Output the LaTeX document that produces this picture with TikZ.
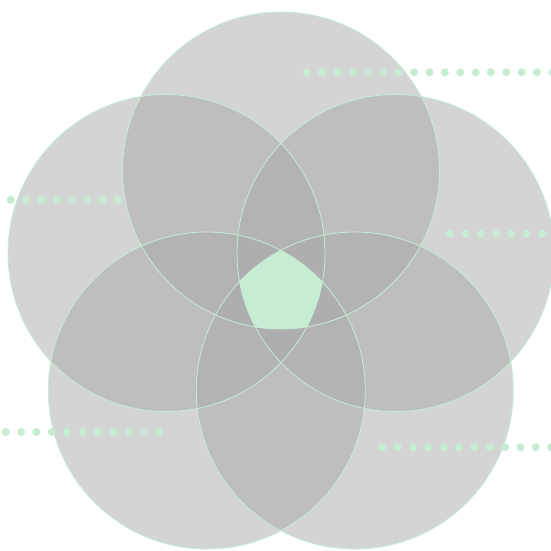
\documentclass[tikz,border=0pt]{standalone}
\begin{document}
\begin{tikzpicture}[x=1pt,y=-1pt]
\definecolor{mint}{RGB}{198,236,212}
\definecolor{petal}{RGB}{169,169,169}
\tikzset{
  petalfill/.style={fill=petal,fill opacity=0.5},
  petaledge/.style={draw=mint,line width=0.8pt},
  dotmark/.style={fill=mint,draw=none},
}
\useasboundingbox (0,0) rectangle (551,550);
\def\rr{158.5}
\coordinate (ca) at (281,170.5);
\coordinate (cb) at (166.5,253);
\coordinate (cc) at (395.5,253);
\coordinate (cd) at (206.8,390.5);
\coordinate (ce) at (354.8,390.5);
% fills
\foreach \n in {ca,cb,cc,cd,ce}{
  \fill[petalfill] (\n) circle (\rr);
}
% edges
\foreach \n in {ca,cb,cc,cd,ce}{
  \draw[petaledge] (\n) circle (\rr);
}
% centre intersection
\begin{scope}
  \clip (ca) circle (\rr);
  \clip (cb) circle (\rr);
  \clip (cc) circle (\rr);
  \clip (cd) circle (\rr);
  \fill[mint] (ce) circle (\rr);
\end{scope}
% dotted rows
\foreach \k in {0,...,16}{ \fill[dotmark] (306.7+15.35*\k,72.3) circle (4); }
\foreach \k in {0,...,7}{ \fill[dotmark] (10.7+15.35*\k,199.7) circle (4); }
\foreach \k in {0,...,7}{ \fill[dotmark] (450+15.35*\k,234) circle (4); }
\foreach \k in {0,...,10}{ \fill[dotmark] (5.7+15.35*\k,432) circle (4); }
\foreach \k in {0,...,11}{ \fill[dotmark] (382.3+15.35*\k,447.3) circle (4); }
\end{tikzpicture}
\end{document}
